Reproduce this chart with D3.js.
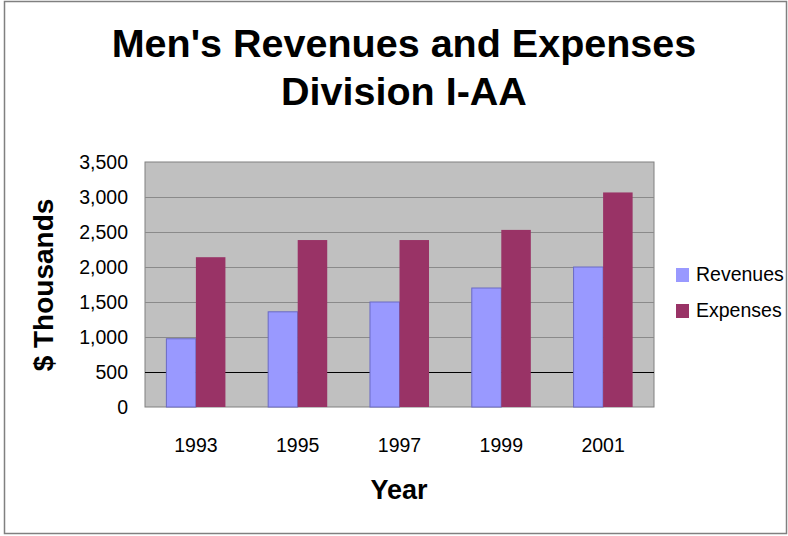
<!DOCTYPE html>
<html>
<head>
<meta charset="utf-8">
<script src="https://cdn.jsdelivr.net/npm/d3@7"></script>
<style>
  body { margin: 0; background: #fff; }
  svg text { font-family: "Liberation Sans", Arial, sans-serif; fill: #000; }
</style>
</head>
<body>
<svg id="chart" width="788" height="536"></svg>
<script>
// data ($ thousands)
const years = ["1993", "1995", "1997", "1999", "2001"];
const seriesNames = ["Revenues", "Expenses"];
const revenues = [975, 1360, 1500, 1700, 2000];
const expenses = [2140, 2385, 2385, 2530, 3065];
const yTicks = [0, 500, 1000, 1500, 2000, 2500, 3000, 3500];

const colors = { Revenues: "#9999ff", Expenses: "#993366" };

const svg = d3.select("#chart");

// outer frame
svg.append("rect")
  .attr("x", 4.5).attr("y", 1.5)
  .attr("width", 782).attr("height", 532)
  .attr("fill", "#fff")
  .attr("stroke", "#808080")
  .attr("stroke-width", 1.5);

const plot = { left: 145, right: 654, top: 162, bottom: 407 };

var x0 = d3.scaleBand().domain(years)
  .range([plot.left, plot.right])
  .paddingInner(0.42).paddingOuter(0.21);
var x1 = d3.scaleBand().domain(seriesNames).range([0, x0.bandwidth()]);
var y = d3.scaleLinear().domain([0, 3500]).range([plot.bottom, plot.top]);

// plot background
svg.append("rect")
  .attr("x", plot.left).attr("y", plot.top)
  .attr("width", plot.right - plot.left)
  .attr("height", plot.bottom - plot.top)
  .attr("fill", "#c0c0c0")
  .attr("stroke", "#808080");

// gridlines
svg.append("g").selectAll("line")
  .data(yTicks.filter(d => d > 0 && d < 3500))
  .enter().append("line")
  .attr("x1", plot.left).attr("x2", plot.right)
  .attr("y1", d => Math.round(y(d)) + 0.5)
  .attr("y2", d => Math.round(y(d)) + 0.5)
  .attr("stroke", d => d === 500 ? "#000" : "#8a8a8a")
  .attr("stroke-width", 1);

// bars
const rows = years.map((yr, i) => ({ year: yr, Revenues: revenues[i], Expenses: expenses[i] }));

var groups = svg.append("g").selectAll("g")
  .data(rows).enter().append("g")
  .attr("transform", d => `translate(${x0(d.year)},0)`);

groups.selectAll("rect")
  .data(d => seriesNames.map(k => ({ key: k, value: d[k] })))
  .enter().append("rect")
  .attr("x", d => x1(d.key))
  .attr("y", d => y(d.value))
  .attr("width", x1.bandwidth())
  .attr("height", d => plot.bottom - y(d.value))
  .attr("fill", d => colors[d.key])
  .attr("stroke", d => d.key === "Revenues" ? "#6a6ac4" : "none")
  .attr("stroke-width", 1);

// y axis
var yAxis = svg.append("g")
  .attr("transform", `translate(${plot.left},0)`)
  .call(d3.axisLeft(y).tickValues(yTicks).tickFormat(d3.format(",")).tickSize(0).tickPadding(17));
yAxis.select(".domain").remove();
yAxis.selectAll("text").style("font-size", "19.5px").attr("font-family", null);

// x axis
var xAxis = svg.append("g")
  .attr("transform", `translate(0,${plot.bottom})`)
  .call(d3.axisBottom(x0).tickSize(0).tickPadding(31));
xAxis.select(".domain").remove();
xAxis.selectAll("text").style("font-size", "19.5px").attr("font-family", null);

// title
const title = svg.append("text")
  .attr("text-anchor", "middle")
  .style("font-size", "39.5px")
  .style("font-weight", "bold");
title.append("tspan").attr("x", 404).attr("y", 57).text("Men's Revenues and Expenses");
title.append("tspan").attr("x", 404).attr("y", 105).text("Division I-AA");

// axis titles
svg.append("text")
  .attr("transform", "translate(53,285) rotate(-90)")
  .attr("text-anchor", "middle")
  .style("font-size", "28px")
  .style("font-weight", "bold")
  .text("$ Thousands");

svg.append("text")
  .attr("x", 399).attr("y", 499)
  .attr("text-anchor", "middle")
  .style("font-size", "27px")
  .style("font-weight", "bold")
  .text("Year");

// legend
const legend = svg.append("g").attr("transform", "translate(676,268)");
const legendItems = legend.selectAll("g")
  .data(seriesNames).enter().append("g")
  .attr("transform", (d, i) => `translate(0,${i * 36})`);
legendItems.append("rect")
  .attr("width", 13).attr("height", 14)
  .attr("fill", d => colors[d]);
legendItems.append("text")
  .attr("x", 20).attr("y", 13)
  .style("font-size", "19.5px")
  .text(d => d);
</script>
</body>
</html>
